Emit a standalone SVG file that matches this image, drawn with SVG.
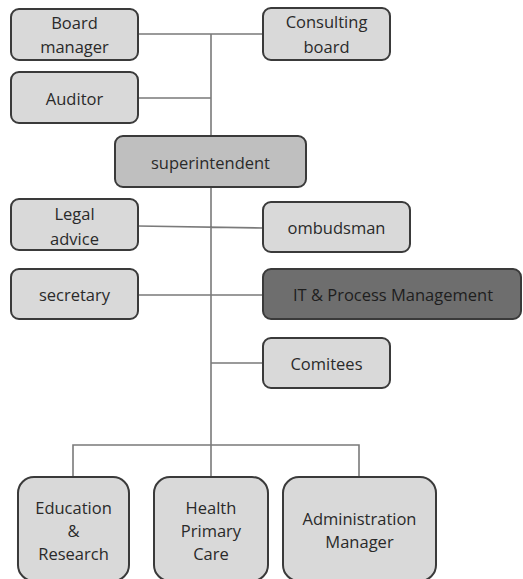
<svg xmlns="http://www.w3.org/2000/svg" width="523" height="579" viewBox="0 0 523 579">
<style>
.b{fill:#d9d9d9;stroke:#3a3a3a;stroke-width:2}
.s{fill:#bfbfbf}
.d{fill:#6e6e6e}
.t{font-family:"Open Sans","Liberation Sans",sans-serif;font-size:16.5px;fill:#2a2a2a;text-anchor:middle;dominant-baseline:central}
.c{fill:none;stroke:#7a7a7a;stroke-width:1.6}
</style>
<rect width="523" height="579" fill="#fff"/>
<g id="connectors">
<path class="c" d="M138,34H263M211,34V136M138,98H211M211,187V477M138,226L263,228M138,295H263M211,363H263M73,477V445H359V477"/>
</g>
<g id="board-manager"><rect class="b" x="11" y="9" width="127" height="51" rx="8"/><text class="t" x="74.5" y="22">Board</text><text class="t" x="74.5" y="46">manager</text></g>
<g id="consulting-board"><rect class="b" x="263" y="8" width="127" height="52" rx="8"/><text class="t" x="326.5" y="21">Consulting</text><text class="t" x="326.5" y="46">board</text></g>
<g id="auditor"><rect class="b" x="11" y="72" width="127" height="51" rx="8"/><text class="t" x="74.5" y="98">Auditor</text></g>
<g id="superintendent"><rect class="b s" x="115" y="136" width="191" height="51" rx="8"/><text class="t" x="210.5" y="162">superintendent</text></g>
<g id="legal-advice"><rect class="b" x="11" y="199" width="127" height="51" rx="8"/><text class="t" x="74.5" y="213">Legal</text><text class="t" x="74.5" y="238">advice</text></g>
<g id="ombudsman"><rect class="b" x="263" y="202" width="147" height="50" rx="8"/><text class="t" x="336.5" y="227">ombudsman</text></g>
<g id="secretary"><rect class="b" x="11" y="269" width="127" height="50" rx="8"/><text class="t" x="74.5" y="294">secretary</text></g>
<g id="it-process"><rect class="b d" x="263" y="269" width="258" height="50" rx="8"/><text class="t" x="393" y="294" style="fill:#1e1e1e">IT &amp; Process Management</text></g>
<g id="comitees"><rect class="b" x="263" y="338" width="127" height="50" rx="8"/><text class="t" x="326.5" y="363">Comitees</text></g>
<g id="education"><rect class="b" x="18" y="477" width="111" height="104" rx="16"/><text class="t" x="73.5" y="507">Education</text><text class="t" x="73.5" y="530">&amp;</text><text class="t" x="73.5" y="553">Research</text></g>
<g id="health"><rect class="b" x="154" y="477" width="114" height="104" rx="16"/><text class="t" x="211" y="507">Health</text><text class="t" x="211" y="530">Primary</text><text class="t" x="211" y="553">Care</text></g>
<g id="administration"><rect class="b" x="283" y="477" width="153" height="104" rx="16"/><text class="t" x="359.5" y="518">Administration</text><text class="t" x="359.5" y="541">Manager</text></g>
</svg>
